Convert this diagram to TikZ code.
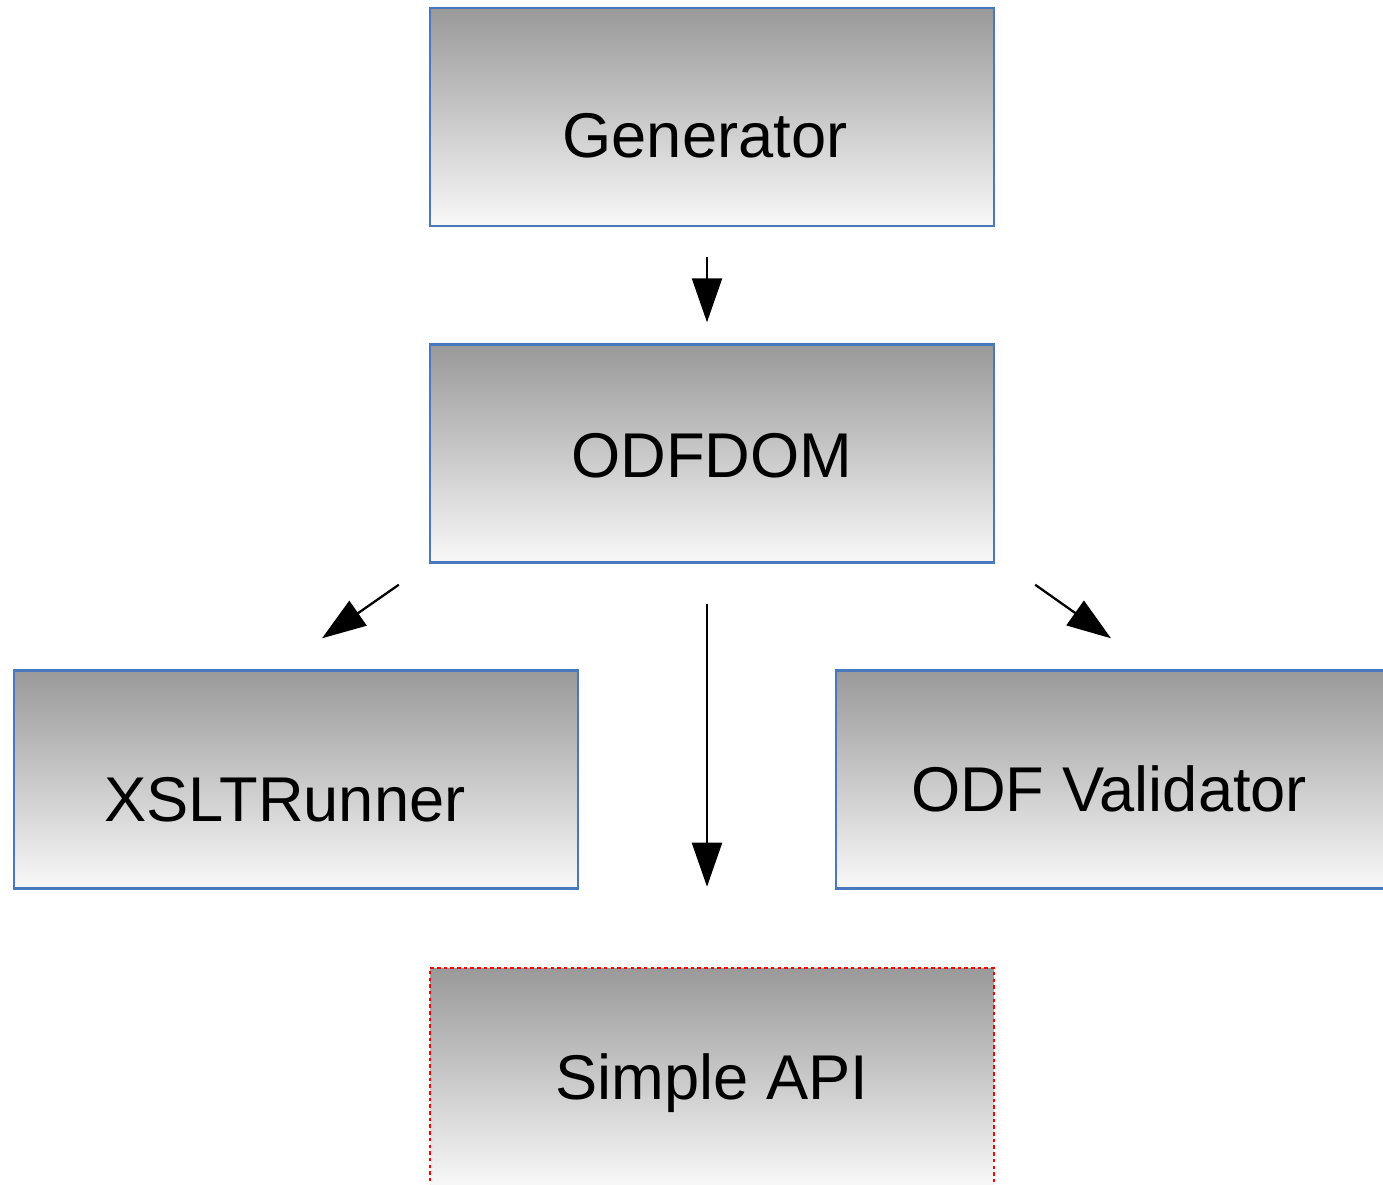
\documentclass[tikz,border=0pt]{standalone}
\usepackage{fontspec}
\setmainfont{Liberation Sans}
\usepackage{tikz}
\usetikzlibrary{arrows.meta}
\definecolor{boxline}{RGB}{74,120,190}
\definecolor{boxtop}{RGB}{153,153,153}
\definecolor{boxbot}{RGB}{248,248,248}
\tikzset{>=latex}
\tikzstyle{mod} = [rectangle, draw=boxline, line width=1.4pt, top color=boxtop, bottom color=boxbot, minimum width=11.28cm, minimum height=4.36cm, inner sep=0pt, text depth=0pt, font=\fontsize{36}{43}\selectfont]
\tikzstyle{newmod} = [mod, draw=red, line width=1.5pt, dash pattern=on 2pt off 1.8pt]
\tikzstyle{dep} = [-{Triangle[length=0.88cm, width=0.6cm]}, line width=1.3pt]

\begin{document}
\begin{tikzpicture}[x=0.02cm, y=-0.02cm]
\useasboundingbox (0,0) rectangle (1383,1184);
\node [mod, text height=1.61cm] (gen) at (712, 117) {\hspace*{-0.28cm}Generator};
\node [mod, text height=0.97cm] (dom) at (712, 453.5) {ODFDOM};
\node [mod, text height=1.69cm] (xslt) at (296, 779.5) {\hspace*{-0.44cm}XSLTRunner};
\node [mod, text height=1.29cm] (val) at (1118, 779.5) {\hspace*{-0.36cm}ODF Validator};
\node [newmod, text height=0.89cm] (api) at (712, 1077) {Simple API};
\draw [dep, shorten <=0.6cm, shorten >=0.42cm] ([xshift=-0.1cm]gen.south) to ([xshift=-0.1cm]dom.north);
\draw [dep, shorten <=0.8cm, shorten >=1.6cm] ([xshift=-0.1cm]dom.south) to ([xshift=-0.1cm]api.north);
\draw [dep] ([shift={(-30,21)}]dom.south west) to ([shift={(26,-31)}]xslt.north);
\draw [dep] ([shift={(40,21)}]dom.south east) to ([shift={(-7,-31)}]val.north);
\end{tikzpicture}
\end{document}
